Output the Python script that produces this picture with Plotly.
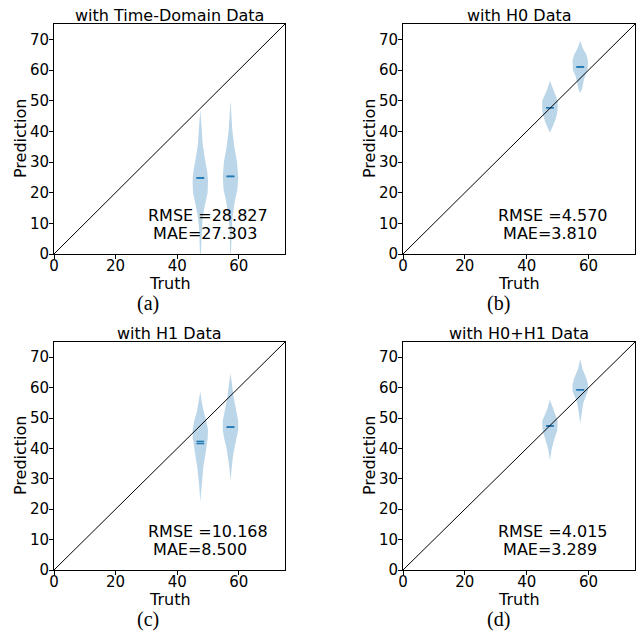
import plotly.graph_objects as go

# ---------------- data ----------------
panel_titles = ["with Time-Domain Data", "with H0 Data", "with H1 Data", "with H0+H1 Data"]
panel_captions = ["(a)", "(b)", "(c)", "(d)"]
rmse_values = [28.827, 4.570, 10.168, 4.015]
mae_values = [27.303, 3.810, 8.500, 3.289]

violin_positions = [47.5, 57.3]
violin_width = 5.0

# violin outlines: prediction levels and relative half-widths
a1_y = [-3, 0, 4, 8, 12, 16, 20, 24, 27, 31, 36, 42, 47]
a1_w = [0.0, 0.05, 0.08, 0.15, 0.3, 0.6, 0.95, 1.0, 0.9, 0.6, 0.3, 0.15, 0.0]
a2_y = [-3, 0, 4, 8, 12, 17, 21, 25, 30, 35, 40, 45, 50]
a2_w = [0.0, 0.05, 0.06, 0.12, 0.25, 0.55, 0.9, 1.0, 0.85, 0.5, 0.25, 0.12, 0.0]

b1_y = [39.5, 41, 43, 45, 47, 50, 52, 54, 56.5]
b1_w = [0.0, 0.3, 0.6, 0.85, 1.0, 1.0, 0.7, 0.3, 0.0]
b2_y = [52.5, 54, 56, 58, 60, 63, 65, 67, 69.5]
b2_w = [0.0, 0.25, 0.4, 0.6, 0.95, 1.0, 0.8, 0.35, 0.0]

c1_y = [22.5, 25, 28, 31, 34, 37, 40, 43, 46, 49, 52, 55, 58.7]
c1_w = [0.0, 0.07, 0.15, 0.25, 0.4, 0.6, 0.8, 0.95, 1.0, 0.8, 0.45, 0.2, 0.0]
c2_y = [29.5, 31, 34, 37, 40, 43, 46, 49, 53, 57, 61, 64.7]
c2_w = [0.0, 0.06, 0.15, 0.3, 0.5, 0.8, 1.0, 1.0, 0.7, 0.4, 0.2, 0.0]

d1_y = [36.2, 38, 40, 42, 44, 46, 49, 51, 53, 56]
d1_w = [0.0, 0.1, 0.25, 0.45, 0.7, 0.95, 1.0, 0.7, 0.35, 0.0]
d2_y = [48.2, 50, 52, 55, 57, 59, 61, 63, 66, 69.3]
d2_w = [0.0, 0.08, 0.2, 0.4, 0.7, 1.0, 1.0, 0.8, 0.3, 0.0]

a_means = [24.8, 25.3]
b_means = [47.7, 61.0]
c_means = [42.3, 47.0]
d_means = [47.4, 59.3]
a_medians = [24.8, 25.3]
b_medians = [47.7, 61.0]
c_medians = [41.6, 47.0]
d_medians = [47.4, 59.3]

identity_line = [0, 75]
axis_range = [0, 75]
x_ticks = [0, 20, 40, 60]
y_ticks = [0, 10, 20, 30, 40, 50, 60, 70]

# ---------------- layout geometry ----------------
W, H = 643, 637
x_domains = [[54 / W, 285 / W], [403 / W, 635 / W]]
y_domains = [[1 - 254 / H, 1 - 24 / H], [1 - 570 / H, 1 - 342 / H]]

panels = [
    ((a1_y, a1_w), (a2_y, a2_w), a_means, a_medians),
    ((b1_y, b1_w), (b2_y, b2_w), b_means, b_medians),
    ((c1_y, c1_w), (c2_y, c2_w), c_means, c_medians),
    ((d1_y, d1_w), (d2_y, d2_w), d_means, d_medians),
]

fill_col = "rgba(31,119,180,0.3)"
line_col = "#1f77b4"
font_fam = "DejaVu Sans"

fig = go.Figure()
annotations = []
layout_axes = {}

for i, (v1, v2, means, medians) in enumerate(panels):
    row, col = divmod(i, 2)
    n = "" if i == 0 else str(i + 1)
    xa, ya = "x" + n, "y" + n
    half = violin_width / 2
    for pos, (ys, ws) in zip(violin_positions, [v1, v2]):
        xs = [pos + half * w for w in ws] + [pos - half * w for w in reversed(ws)]
        yy = list(ys) + list(reversed(ys))
        fig.add_trace(go.Scatter(x=xs, y=yy, fill="toself", fillcolor=fill_col,
                                 line=dict(width=0), mode="lines", hoverinfo="skip",
                                 xaxis=xa, yaxis=ya, showlegend=False))
    for pos, m, md in zip(violin_positions, means, medians):
        for val in (m, md):
            fig.add_trace(go.Scatter(x=[pos - violin_width / 4, pos + violin_width / 4], y=[val, val],
                                     mode="lines", line=dict(color=line_col, width=1.5),
                                     xaxis=xa, yaxis=ya, showlegend=False))
    fig.add_trace(go.Scatter(x=identity_line, y=identity_line, mode="lines",
                             line=dict(color="black", width=1),
                             xaxis=xa, yaxis=ya, showlegend=False))

    axcommon = dict(range=axis_range, showgrid=False, zeroline=False, showline=True,
                    mirror=True, linecolor="black", linewidth=1, ticks="outside",
                    ticklen=4, tickwidth=1, tickcolor="black", automargin=False,
                    tickfont=dict(family=font_fam, size=15, color="black"))
    layout_axes["xaxis" + n] = dict(axcommon, domain=x_domains[col], anchor=ya,
                                   tickvals=x_ticks, ticklabelstandoff=-6)
    layout_axes["yaxis" + n] = dict(axcommon, domain=y_domains[row], anchor=xa,
                                   tickvals=y_ticks, ticklabelstandoff=-3)

    x0, x1 = x_domains[col]
    y0, y1 = y_domains[row]
    xc = (x0 + x1) / 2
    yc = (y0 + y1) / 2
    # title
    annotations.append(dict(text=panel_titles[i], x=xc, y=y1, xref="paper", yref="paper",
                            xanchor="center", yanchor="bottom", showarrow=False, yshift=-3,
                            font=dict(family=font_fam, size=16, color="black")))
    # axis labels
    annotations.append(dict(text="Truth", x=xc, y=y0, xref="paper", yref="paper",
                            xanchor="center", yanchor="middle", yshift=-29, showarrow=False,
                            font=dict(family=font_fam, size=16, color="black")))
    annotations.append(dict(text="Prediction", x=x0, y=yc, xref="paper", yref="paper",
                            xanchor="center", yanchor="middle", xshift=-34, textangle=-90,
                            showarrow=False,
                            font=dict(family=font_fam, size=16, color="black")))
    # metrics
    annotations.append(dict(text="RMSE =%.3f" % rmse_values[i], x=30, y=12.7, xref=xa, yref=ya,
                            xanchor="left", yanchor="middle", showarrow=False,
                            font=dict(family=font_fam, size=16, color="black")))
    annotations.append(dict(text="\u00a0MAE=%.3f" % mae_values[i], x=30, y=6.8, xref=xa, yref=ya,
                            xanchor="left", yanchor="middle", showarrow=False,
                            font=dict(family=font_fam, size=16, color="black")))
    # caption
    annotations.append(dict(text=panel_captions[i], x=xc - 21 / W, y=y0, xref="paper", yref="paper",
                            xanchor="center", yanchor="middle", yshift=-49, showarrow=False,
                            font=dict(family="Liberation Serif", size=20, color="black")))

fig.update_layout(width=W, height=H, margin=dict(l=0, r=0, t=0, b=0),
                  paper_bgcolor="white", plot_bgcolor="white",
                  annotations=annotations, **layout_axes)
fig.write_html("out.html")
